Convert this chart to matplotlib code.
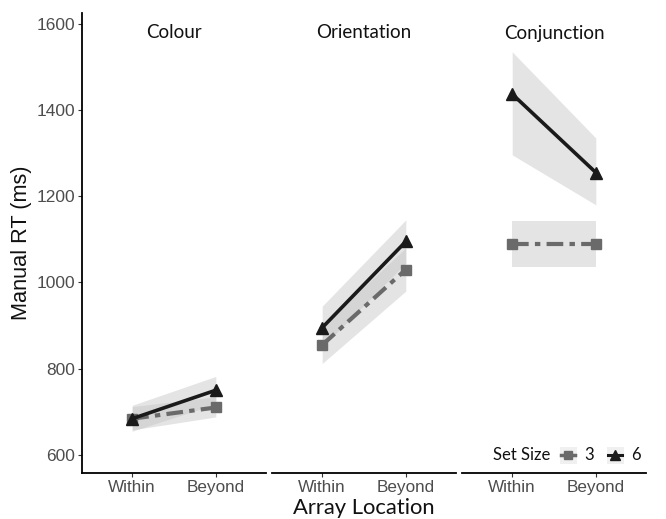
import numpy as np
import matplotlib.pyplot as plt
from matplotlib.lines import Line2D
from matplotlib.patches import Rectangle

# data
panels = ["Colour", "Orientation", "Conjunction"]
locations = ["Within", "Beyond"]

rt_3 = [[684, 710], [855, 1030], [1090, 1090]]
lo_3 = [[658, 688], [812, 980], [1036, 1036]]
hi_3 = [[712, 735], [900, 1080], [1143, 1143]]

rt_6 = [[684, 750], [895, 1095], [1437, 1255]]
lo_6 = [[655, 718], [850, 1045], [1296, 1180]]
hi_6 = [[715, 782], [945, 1145], [1535, 1335]]

yticks = [600, 800, 1000, 1200, 1400, 1600]
set_sizes = ["3", "6"]

W, H = 666, 519
fig = plt.figure(figsize=(W / 100, H / 100), dpi=100)

tick_font = "Liberation Sans"
text_font = "Lato"
grey3 = "#6a6a6a"
black6 = "#1a1a1a"

lefts = [82, 272, 462]
pw = 184
bottom, top = 473, 13
x = np.array([1, 2])
axes = []
for i, name in enumerate(panels):
    ax = fig.add_axes([lefts[i] / W, 1 - bottom / H, pw / W, (bottom - top) / H])
    axes.append(ax)
    ax.fill_between(x, lo_3[i], hi_3[i], color="#c4c4c4", alpha=0.45, lw=0)
    ax.fill_between(x, lo_6[i], hi_6[i], color="#c4c4c4", alpha=0.45, lw=0)
    ax.plot(x, rt_3[i], color=grey3, lw=3, dashes=(4, 1.5, 1.3, 1.5),
            marker="s", ms=7.5, mfc=grey3, mec=grey3)
    ax.plot(x, rt_6[i], color=black6, lw=2.6, marker="^", ms=9,
            mfc=black6, mec=black6)
    ax.set_xlim(0.4, 2.6)
    ax.set_ylim(558, 1625)
    ax.set_xticks(x)
    ax.set_xticklabels(locations, fontsize=12.3, color="#4d4d4d", family=tick_font)
    ax.set_yticks(yticks)
    for s in ["top", "right"]:
        ax.spines[s].set_visible(False)
    ax.spines["bottom"].set_linewidth(1.3)
    ax.spines["left"].set_linewidth(1.3)
    ax.tick_params(length=3, width=0.8, color="#333333", pad=2)
    ax.text(0.5, 0.975, name, transform=ax.transAxes, ha="center", va="top",
            fontsize=13.5, family=text_font, color="#111111")
    if i == 0:
        ax.set_yticklabels([str(v) for v in yticks], fontsize=12.5,
                           color="#4d4d4d", family=tick_font)
        ax.set_ylabel("Manual RT (ms)", fontsize=15.7, family=tick_font,
                      color="#111111", labelpad=3)
    else:
        ax.spines["left"].set_visible(False)
        ax.tick_params(axis="y", left=False, labelleft=False)

fig.text(0.5 * (lefts[0] + lefts[2] + pw) / W, 1 - 508 / H, "Array Location",
         ha="center", va="center", fontsize=15.8, family=text_font, color="#111111")

# legend drawn by hand in pixel positions of the figure
ly = 1 - 455 / H
fig.text(493 / W, ly, "Set Size", ha="left", va="center",
         fontsize=12, family=text_font, color="#111111")
key_x = [568, 615]
key_style = [dict(color=grey3, lw=2.5, marker="s", ms=5.5, mfc=grey3, mec=grey3),
             dict(color=black6, lw=2.2, marker="^", ms=6.5, mfc=black6, mec=black6)]
for kx, lab, st in zip(key_x, set_sizes, key_style):
    fig.add_artist(Rectangle(((kx - 8.5) / W, ly - 8.5 / H), 17 / W, 17 / H,
                             transform=fig.transFigure, color="#f0f0f0", lw=0))
    fig.add_artist(Line2D([(kx - 7) / W, kx / W, (kx + 7) / W], [ly, ly, ly],
                          transform=fig.transFigure, markevery=[1], **st))
    fig.text((kx + 16) / W, ly, lab, ha="left", va="center",
             fontsize=12, family=text_font, color="#111111")

fig.savefig("out.png", dpi=100)
